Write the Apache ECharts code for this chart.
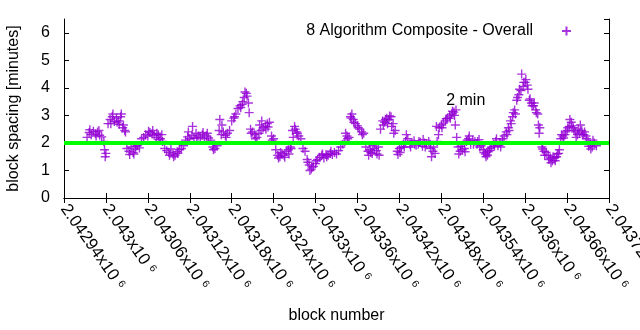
<!DOCTYPE html>
<html>
<head>
<meta charset="utf-8">
<script src="https://cdn.jsdelivr.net/npm/echarts@6/dist/echarts.min.js"></script>
<style>
  html, body { margin: 0; padding: 0; background: #fff; }
  #chart { width: 640px; height: 330px; }
</style>
</head>
<body>
<div id="chart"></div>
<script>
// Block numbers are stored as offsets from the first x tick.
const blockBase = 2042940;

// Block spacing (minutes), one point per listed block.
const blockOffsets = [
  33,36,39,42,45,48,51,54,57,60,
  63,66,69,72,75,78,81,84,87,90,
  93,96,99,102,105,108,111,114,117,120,
  123,126,129,132,135,138,141,144,147,150,
  153,156,159,162,165,168,171,174,177,180,
  183,186,189,192,195,198,201,204,207,210,
  213,216,219,222,225,228,231,234,237,240,
  243,246,249,252,255,258,261,264,267,270,
  273,276,279,282,285,288,291,294,297,300,
  303,306,309,312,315,318,321,324,327,330,
  333,336,339,342,345,348,351,354,357,360,
  363,366,369,372,375,378,381,384,387,390,
  393,396,399,402,405,408,411,414,417,420,
  423,426,429,432,435,438,441,444,447,450,
  453,456,459,462,465,468,471,474,477,480,
  483,486,489,492,495,498,501,504,507,510,
  513,516,519,522,525,528,531,534,537,540,
  543,546,549,552,555,558,561,564,567,570,
  573,576,579,582,585,588,591,594,597,600,
  603,606,609,612,615,618,621,624,627,630,
  633,636,639,642,645,648,651,654,657,660,
  663,666,669,672,675,678,681,684,687,690,
  693,696,699,702,705,708,711,714,717,720,
  723,726,729,732,735,738,741,744,747,750,
  753,756,759,762
];
const spacing = [
  2.20,2.38,2.30,2.42,2.33,2.40,2.28,2.22,2.05,1.62,
  2.70,2.85,2.95,2.78,2.90,2.80,2.95,2.55,2.45,1.80,
  1.70,1.85,1.65,1.78,1.90,1.82,2.15,2.20,2.30,2.25,
  2.38,2.32,2.28,2.20,2.30,2.15,2.05,1.80,1.72,1.65,
  1.78,1.60,1.55,1.68,1.75,1.80,1.90,2.10,2.22,2.15,
  2.28,2.18,2.35,2.25,2.20,2.30,2.15,2.25,2.18,2.10,
  1.85,1.80,1.90,2.45,2.30,2.40,2.28,2.35,2.45,2.80,
  2.90,3.05,3.25,3.35,3.40,3.65,3.80,3.45,2.50,2.40,
  2.30,2.20,2.35,2.45,2.55,2.60,2.70,2.75,2.25,2.15,
  1.75,1.55,1.50,1.62,1.55,1.70,1.75,1.85,2.45,2.60,
  2.40,2.25,2.15,1.80,1.70,1.40,1.20,1.05,1.15,1.25,
  1.40,1.48,1.55,1.45,1.58,1.55,1.62,1.58,1.65,1.60,
  1.72,1.85,1.95,2.05,2.25,2.20,2.90,2.85,2.70,2.62,
  2.50,2.40,2.35,1.85,1.70,1.75,1.62,1.80,1.72,1.85,
  2.50,2.80,2.75,2.90,2.85,2.95,2.70,2.45,1.70,1.80,
  1.85,1.95,2.05,2.15,1.95,2.00,2.08,1.92,1.95,2.02,
  1.88,2.00,1.95,2.05,1.80,1.70,1.62,2.05,2.55,2.65,
  2.72,2.80,2.90,2.98,3.05,3.12,3.20,1.85,1.70,1.75,
  1.80,2.05,2.15,1.95,2.10,2.05,1.95,2.12,1.90,1.75,
  1.60,1.55,1.72,1.85,1.95,2.05,1.90,2.00,2.15,2.25,
  2.40,2.55,2.80,2.95,3.20,3.55,3.75,3.90,4.05,4.20,
  4.10,3.55,3.45,3.35,3.20,3.05,2.55,1.85,1.70,1.65,
  1.55,1.45,1.35,1.45,1.50,1.62,2.15,2.25,2.30,2.45,
  2.60,2.75,2.55,2.40,2.30,2.35,2.45,2.30,2.25,2.05,
  1.95,1.85,2.00,1.90
];

// Further blocks in between.
const moreOffsets = [
  37,46,50,58,59,67,70,76,79,82,
  85,88,94,100,103,121,127,133,136,140,
  151,157,163,178,184,190,199,205,214,223,
  226,232,244,253,256,259,262,265,268,274,
  280,283,289,292,298,307,310,316,322,325,
  328,331,334,349,352,355,361,370,376,382,
  403,406,410,412,415,421,427,436,439,442,
  448,451,457,460,463,466,469,472,478,481,
  487,490,496,502,508,514,517,524,526,529,
  533,536,541,547,553,556,559,560,562,565,
  568,574,577,580,586,592,595,601,604,607,
  610,616,619,625,628,634,637,640,643,646,
  649,652,655,658,661,664,667,670,673,676,
  679,680,685,688,694,697,700,703,706,709,
  712,715,718,721,724,727,730,733,736,739,
  742,745,748,751,754,757
];
const moreSpacing = [
  2.48,2.25,2.45,1.75,1.50,2.70,3.05,2.75,2.68,3.05,
  2.65,2.40,1.58,1.60,1.88,2.42,2.45,2.35,2.12,2.30,
  1.55,1.50,1.62,2.40,2.60,2.18,2.38,2.35,1.75,2.85,
  2.65,2.20,2.95,3.28,3.50,3.85,3.70,3.10,2.35,2.15,
  2.65,2.80,2.50,2.58,2.10,1.45,1.65,1.48,1.60,1.80,
  2.20,2.50,2.35,1.30,1.00,1.12,1.35,1.60,1.50,1.70,
  2.35,2.15,2.95,3.05,2.75,2.55,2.30,1.55,1.65,1.90,
  1.60,1.55,2.65,2.85,2.70,2.98,2.60,2.35,1.58,1.65,
  1.85,2.30,1.85,1.95,2.05,2.12,1.85,1.95,1.50,1.85,
  2.60,2.30,2.55,2.88,2.90,3.15,3.00,2.65,2.20,1.60,
  1.88,1.68,2.10,2.25,1.95,2.05,1.85,1.65,1.50,1.68,
  1.80,1.88,2.15,1.85,2.05,2.30,2.45,2.70,3.10,3.05,
  3.65,3.95,4.50,4.20,4.30,3.95,3.60,3.35,3.45,3.10,
  2.65,2.35,1.78,1.55,1.40,1.28,1.50,1.35,1.60,1.75,
  2.30,2.18,2.40,2.55,2.85,2.62,2.45,2.20,2.50,2.65,
  2.30,2.40,2.15,1.88,1.78,2.10
];

// Axis ranges and tick labels (mantissa of value x 10^6).
const xMin = 2042940, xMax = 2043720, xStep = 60;
const xTickText = ['2.04294','2.043','2.04306','2.04312','2.04318','2.04324','2.0433',
                   '2.04336','2.04342','2.04348','2.04354','2.0436','2.04366','2.04372'];
const yMin = 0, yMax = 6.5, yStep = 1;

const seriesName = '8 Algorithm Composite - Overall';
const targetSpacing = 2;       // reference line, minutes
const noteText = '2 min';
const noteBlock = 2043487, noteValue = 3.53;

const FONT = '"Liberation Sans", Arial, sans-serif';
const PURPLE = '#9400d3';
const PLUS = 'path://M0,5L10,5M5,0L5,10';

const points = blockOffsets.map((o, i) => [blockBase + o, spacing[i]])
  .concat(moreOffsets.map((o, i) => [blockBase + o, moreSpacing[i]]));

const chart = echarts.init(document.getElementById('chart'), null, { renderer: 'canvas' });

const tickStyle = { inside: true, length: 5, lineStyle: { color: '#000', width: 1 } };
const lineStyle = { show: true, lineStyle: { color: '#000', width: 1 } };

chart.setOption({
  animation: false,
  textStyle: { fontFamily: FONT },
  grid: { left: 64, right: 31, top: 19, bottom: 132, containLabel: false, outerBoundsMode: 'none' },
  legend: {
    data: [seriesName],
    right: 68,
    top: 23,
    padding: 0,
    align: 'right',
    itemWidth: 9,
    itemHeight: 9,
    icon: PLUS,
    textStyle: { fontSize: 16, color: '#000', fontFamily: FONT, padding: [0, 24, 0, 0] }
  },
  xAxis: [{
    type: 'value', min: xMin, max: xMax, interval: xStep, position: 'bottom',
    axisLine: lineStyle, axisTick: tickStyle, splitLine: { show: false },
    name: 'block number', nameLocation: 'middle', nameGap: 110,
    nameTextStyle: { fontSize: 16, color: '#000', fontFamily: FONT },
    axisLabel: {
      rotate: -55, margin: 8, color: '#000', fontSize: 17, fontFamily: FONT, hideOverlap: false,
      formatter: v => xTickText[Math.round((v - xMin) / xStep)] + 'x10 \u2076'
    }
  }, {
    type: 'value', min: xMin, max: xMax, interval: xStep, position: 'top',
    axisLine: lineStyle, axisTick: tickStyle, axisLabel: { show: false }, splitLine: { show: false }
  }],
  yAxis: [{
    type: 'value', min: yMin, max: yMax, interval: yStep, position: 'left',
    axisLine: lineStyle, axisTick: tickStyle, splitLine: { show: false },
    axisLabel: { fontSize: 16, color: '#000', margin: 14, showMaxLabel: false, fontFamily: FONT },
    name: 'block spacing [minutes]', nameLocation: 'middle', nameGap: 42,
    nameTextStyle: { fontSize: 16, color: '#000', fontFamily: FONT }
  }, {
    type: 'value', min: yMin, max: yMax, interval: yStep, position: 'right',
    axisLine: lineStyle, axisTick: tickStyle, axisLabel: { show: false }, splitLine: { show: false }
  }],
  series: [{
    name: seriesName,
    type: 'scatter',
    data: points,
    symbol: PLUS,
    symbolSize: 9,
    itemStyle: { color: 'rgba(0,0,0,0)', borderColor: PURPLE, borderWidth: 1.4 },
    z: 2
  }, {
    name: 'target',
    type: 'line',
    data: [[xMin, targetSpacing], [xMax, targetSpacing]],
    symbol: 'none',
    lineStyle: { color: '#00ff00', width: 4 },
    z: 3,
    markPoint: {
      symbol: 'circle',
      symbolSize: 0,
      data: [{ coord: [noteBlock, noteValue] }],
      label: { show: true, position: 'right', distance: 0, formatter: noteText,
               fontSize: 16, color: '#000', fontFamily: FONT }
    }
  }]
});
</script>
</body>
</html>
